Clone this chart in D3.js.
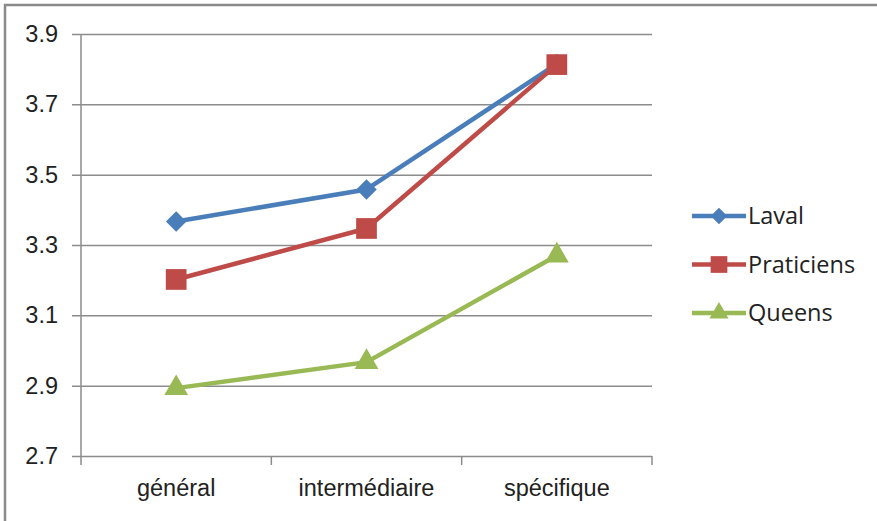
<!DOCTYPE html>
<html>
<head>
<meta charset="utf-8">
<script src="https://cdn.jsdelivr.net/npm/d3@7"></script>
<style>
  body { margin: 0; background: #fff; }
  svg { display: block; font-family: "Open Sans", "Noto Sans", sans-serif; }
</style>
</head>
<body>
<svg id="chart"></svg>
<script>
const width = 877;
const height = 521;

const categories = ["général", "intermédiaire", "spécifique"];
const laval = [3.367, 3.458, 3.815];
const praticiens = [3.202, 3.347, 3.813];
const queens = [2.893, 2.967, 3.27];
const yTicks = [2.7, 2.9, 3.1, 3.3, 3.5, 3.7, 3.9];

const series = [
  { name: "Laval", values: laval, color: "#4a7ebb", symbol: d3.symbolSquare, size: 210, rotate: 45 },
  { name: "Praticiens", values: praticiens, color: "#be4b48", symbol: d3.symbolSquare, size: 430, rotate: 0 },
  { name: "Queens", values: queens, color: "#98b954", symbol: d3.symbolTriangle, size: 245, rotate: 0 }
];

const margin = { left: 81, right: 652, top: 34, bottom: 456 };
const fontSize = "23.5px";

const svg = d3.select("#chart")
  .attr("width", width)
  .attr("height", height);

// frame (top and left edges only are visible)
svg.append("line").attr("x1", 4).attr("x2", width).attr("y1", 5).attr("y2", 5)
  .attr("stroke", "#8a8a8a").attr("stroke-width", 2.5);
svg.append("line").attr("x1", 5).attr("x2", 5).attr("y1", 4).attr("y2", height)
  .attr("stroke", "#8a8a8a").attr("stroke-width", 2.5);

const xScale = d3.scaleBand()
  .domain(categories)
  .range([margin.left, margin.right]);

const yScale = d3.scaleLinear()
  .domain([2.7, 3.9])
  .range([margin.bottom, margin.top]);

// gridlines + y axis
const yAxis = d3.axisLeft(yScale)
  .tickValues(yTicks)
  .tickFormat(d3.format(".1f"))
  .tickSize(-(margin.right - margin.left + 9))
  .tickPadding(14);

const gy = svg.append("g")
  .attr("transform", `translate(${margin.left - 9}, 0)`)
  .call(yAxis);
gy.select(".domain").remove();
gy.selectAll(".tick line").attr("stroke", "#8c8c8c").attr("stroke-width", 1.5);
gy.selectAll(".tick text").attr("fill", "#222").style("font-size", fontSize);

svg.append("line")
  .attr("x1", margin.left).attr("x2", margin.left)
  .attr("y1", margin.top).attr("y2", margin.bottom + 9)
  .attr("stroke", "#8c8c8c").attr("stroke-width", 1.5);

// x axis
const xAxis = d3.axisBottom(xScale).tickSize(0).tickPadding(23);
const gx = svg.append("g")
  .attr("transform", `translate(0, ${margin.bottom})`)
  .call(xAxis);
gx.select(".domain").remove();
gx.selectAll(".tick text").attr("fill", "#222").style("font-size", fontSize);

const boundaries = categories.map(c => xScale(c) + xScale.bandwidth());
svg.selectAll(".xtick")
  .data(boundaries)
  .enter()
  .append("line")
  .attr("x1", d => d).attr("x2", d => d)
  .attr("y1", margin.bottom).attr("y2", margin.bottom + 9)
  .attr("stroke", "#8c8c8c").attr("stroke-width", 1.5);

// lines and markers
const cx = c => xScale(c) + xScale.bandwidth() / 2;
const line = d3.line()
  .x((d, i) => cx(categories[i]))
  .y(d => yScale(d));

series.forEach(s => {
  svg.append("path")
    .datum(s.values)
    .attr("fill", "none")
    .attr("stroke", s.color)
    .attr("stroke-width", 4.5)
    .attr("stroke-linejoin", "round")
    .attr("d", line);
});

series.forEach(s => {
  svg.selectAll(null)
    .data(s.values)
    .enter()
    .append("path")
    .attr("d", d3.symbol().type(s.symbol).size(s.size))
    .attr("transform", (d, i) => `translate(${cx(categories[i])}, ${yScale(d)}) rotate(${s.rotate})`)
    .attr("fill", s.color);
});

// legend
const legend = svg.append("g").attr("transform", "translate(692, 216)");
series.forEach((s, i) => {
  const g = legend.append("g").attr("transform", `translate(0, ${i * 48.5})`);
  g.append("line")
    .attr("x1", 0).attr("x2", 54)
    .attr("stroke", s.color).attr("stroke-width", 4.5);
  g.append("path")
    .attr("d", d3.symbol().type(s.symbol).size(s.size * 0.65))
    .attr("transform", `translate(27, 0) rotate(${s.rotate})`)
    .attr("fill", s.color);
  g.append("text")
    .attr("x", 56)
    .attr("dy", "0.35em")
    .attr("fill", "#222")
    .style("font-size", fontSize)
    .text(s.name);
});
</script>
</body>
</html>
